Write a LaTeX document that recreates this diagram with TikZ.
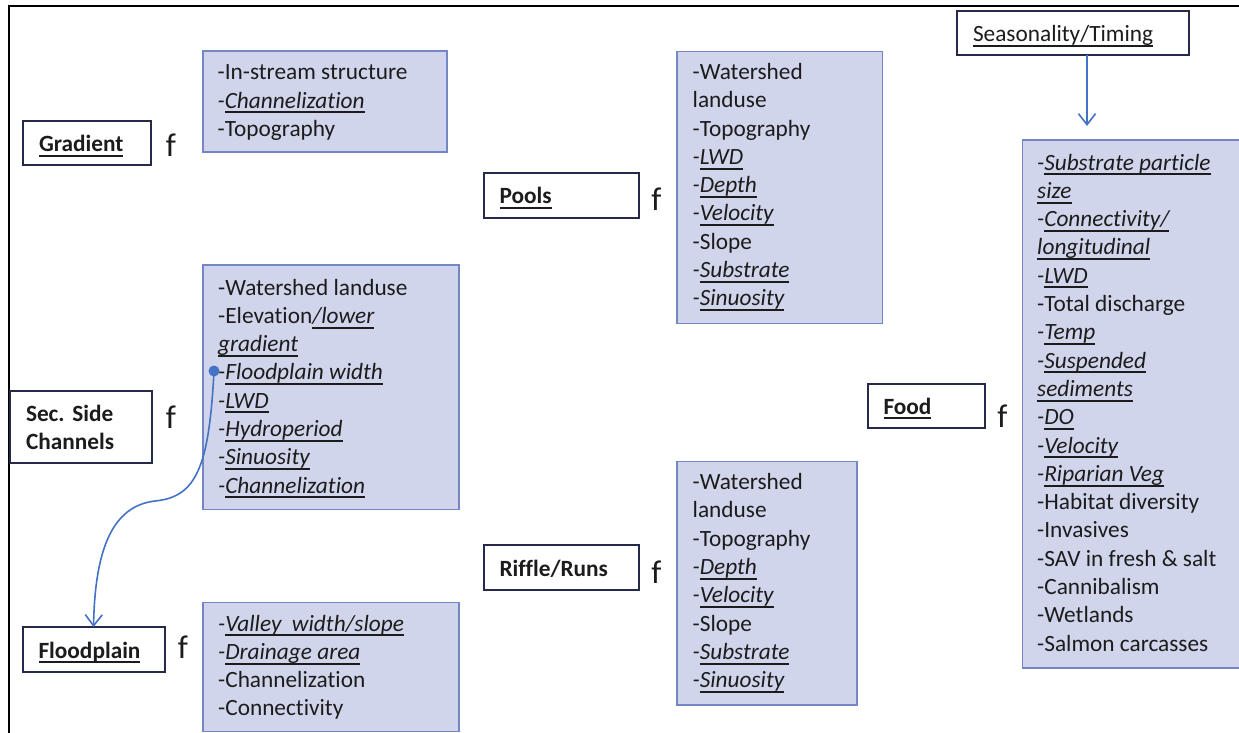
\documentclass[tikz,border=0pt]{standalone}
\usepackage{fontspec}
\setmainfont{Carlito}[Ligatures={NoCommon}]
\usetikzlibrary{arrows.meta}
\frenchspacing

\definecolor{txt}{RGB}{28,28,28}
\definecolor{headc}{RGB}{37,42,75}
\definecolor{listc}{RGB}{116,134,196}
\definecolor{listfill}{RGB}{208,213,235}
\definecolor{linkc}{RGB}{68,114,196}

% underline drawn as a solid rule under the text
\newsavebox\ulbox
\newcommand\ulx[1]{\sbox\ulbox{#1}\rlap{\rule[-5.2pt]{\wd\ulbox}{2pt}}\usebox\ulbox}
\newcommand\iu[1]{\ulx{\itshape #1}}
\newcommand\dsh{\textit{-}}

\tikzset{
  head/.style={draw=headc, line width=2pt, fill=white, outer sep=0pt,
    inner xsep=16pt, inner ysep=0pt, anchor=north west, align=left,
    text=txt, font=\fontsize{23.3}{28}\selectfont\bfseries},
  oneline/.style={text height=17pt, text depth=0pt},
  listbox/.style={draw=listc, line width=1.3pt, fill=listfill,
    anchor=north west, outer sep=0pt, inner sep=0pt},
  listtext/.style={anchor=base west, inner sep=0pt, text=txt,
    font=\fontsize{23.3}{28.3}\selectfont},
  fsym/.style={anchor=base, inner sep=0pt, text=txt,
    font=\fontsize{33}{33}\selectfont},
  link/.style={draw=linkc, line width=1.6pt,
    -{Straight Barb[length=11pt,width=17pt,line width=1.6pt]}},
  frameline/.style={draw=black, line width=1.8pt}
}

\begin{document}
\begin{tikzpicture}[x=1pt,y=-1pt]
\useasboundingbox (0,0) rectangle (1239,733);

% outer frame (top and left edges)
\draw[frameline] (9,733) -- (9,6) -- (1239,6);

% ---------- Gradient ----------
\node[head, oneline, text width=96pt, minimum height=44pt] (grad) at (23,121) {\ulx{Gradient}};
\node[fsym] (fgrad) at (171,157) {f};
\node[listbox, minimum width=244pt, minimum height=101pt] (gradlist) at (203,51) {};
\node[listtext] (gradtext) at (217.5,80) {\begin{tabular}[t]{@{}l@{}}
-In-stream structure\\
\dsh\iu{Channelization}\\
-Topography
\end{tabular}};

% ---------- Secondary side channels ----------
\node[head, text width=110pt, minimum height=72pt] (ssc) at (10,391) {Sec. Side\\Channels};
\node[fsym] (fssc) at (171,428) {f};
\node[listbox, minimum width=256pt, minimum height=244.5pt] (ssclist) at (203,265) {};
\node[listtext] (ssctext) at (218,295) {\begin{tabular}[t]{@{}l@{}}
-Watershed landuse\\
-Elevation\iu{/lower}\\
\iu{gradient}\\
\dsh\iu{Floodplain width}\\
\dsh\iu{LWD}\\
\dsh\iu{Hydroperiod}\\
\dsh\iu{Sinuosity}\\
\dsh\iu{Channelization}
\end{tabular}};

% ---------- Floodplain ----------
\node[head, oneline, text width=110pt, minimum height=45pt] (fp) at (22.5,627) {\ulx{Floodplain}};
\node[fsym] (ffp) at (183,658) {f};
\node[listbox, minimum width=256pt, minimum height=129pt] (fplist) at (203,602.5) {};
\node[listtext] (fptext) at (218,631) {\begin{tabular}[t]{@{}l@{}}
\dsh\iu{Valley\ \ width/slope}\\
\dsh\iu{Drainage area}\\
-Channelization\\
-Connectivity
\end{tabular}};

% floodplain width feeds the floodplain factor
\coordinate (fpw) at (214,371);
\fill[linkc] (fpw) circle (5.5pt);
\draw[link] (fpw) .. controls (209,468) and (196,497) .. (155,501)
                  .. controls (112,506) and (95,550) .. (fp.north);

% ---------- Pools ----------
\node[head, oneline, text width=123pt, minimum height=44.5pt] (pools) at (483.5,173) {\ulx{Pools}};
\node[fsym] (fpools) at (656.5,210) {f};
\node[listbox, minimum width=205.5pt, minimum height=272pt] (poollist) at (677,51.5) {};
\node[listtext] (pooltext) at (692.5,79.5) {\begin{tabular}[t]{@{}l@{}}
-Watershed\\
landuse\\
-Topography\\
\dsh\iu{LWD}\\
\dsh\iu{Depth}\\
\dsh\iu{Velocity}\\
-Slope\\
\dsh\iu{Substrate}\\
\dsh\iu{Sinuosity}
\end{tabular}};

% ---------- Riffle/Runs ----------
\node[head, oneline, text width=123pt, minimum height=45pt] (riffle) at (483.5,545) {Riffle/Runs};
\node[fsym] (friffle) at (656.5,583) {f};
\node[listbox, minimum width=180pt, minimum height=243.5pt] (rifflelist) at (677,461.5) {};
\node[listtext] (riffletext) at (692.5,489.5) {\begin{tabular}[t]{@{}l@{}}
-Watershed\\
landuse\\
-Topography\\
\dsh\iu{Depth}\\
\dsh\iu{Velocity}\\
-Slope\\
\dsh\iu{Substrate}\\
\dsh\iu{Sinuosity}
\end{tabular}};

% ---------- Food ----------
\node[head, oneline, text width=85pt, minimum height=44pt] (food) at (867.5,383.5) {\ulx{Food}};
\node[fsym] (ffood) at (1002.5,427) {f};
\node[listbox, minimum width=240pt, minimum height=528pt] (foodlist) at (1022.5,140) {};
\node[listtext] (foodtext) at (1037,170) {\begin{tabular}[t]{@{}l@{}}
\dsh\iu{Substrate particle}\\
\iu{size}\\
\dsh\iu{Connectivity/}\\
\iu{longitudinal}\\
\dsh\iu{LWD}\\
-Total discharge\\
\dsh\iu{Temp}\\
\dsh\iu{Suspended}\\
\iu{sediments}\\
\dsh\iu{DO}\\
\dsh\iu{Velocity}\\
\dsh\iu{Riparian Veg}\\
-Habitat diversity\\
-Invasives\\
-SAV in fresh \& salt\\
-Cannibalism\\
-Wetlands\\
-Salmon carcasses
\end{tabular}};

% ---------- Seasonality/Timing ----------
\node[head, oneline, text width=200pt, minimum height=44pt,
      font=\fontsize{23.3}{28}\selectfont] (sea) at (957,11) {\ulx{Seasonality/Timing}};
\coordinate (foodin) at (1087,126);
\draw[link] ([xshift=14pt]sea.south) -- (foodin);

\end{tikzpicture}
\end{document}
